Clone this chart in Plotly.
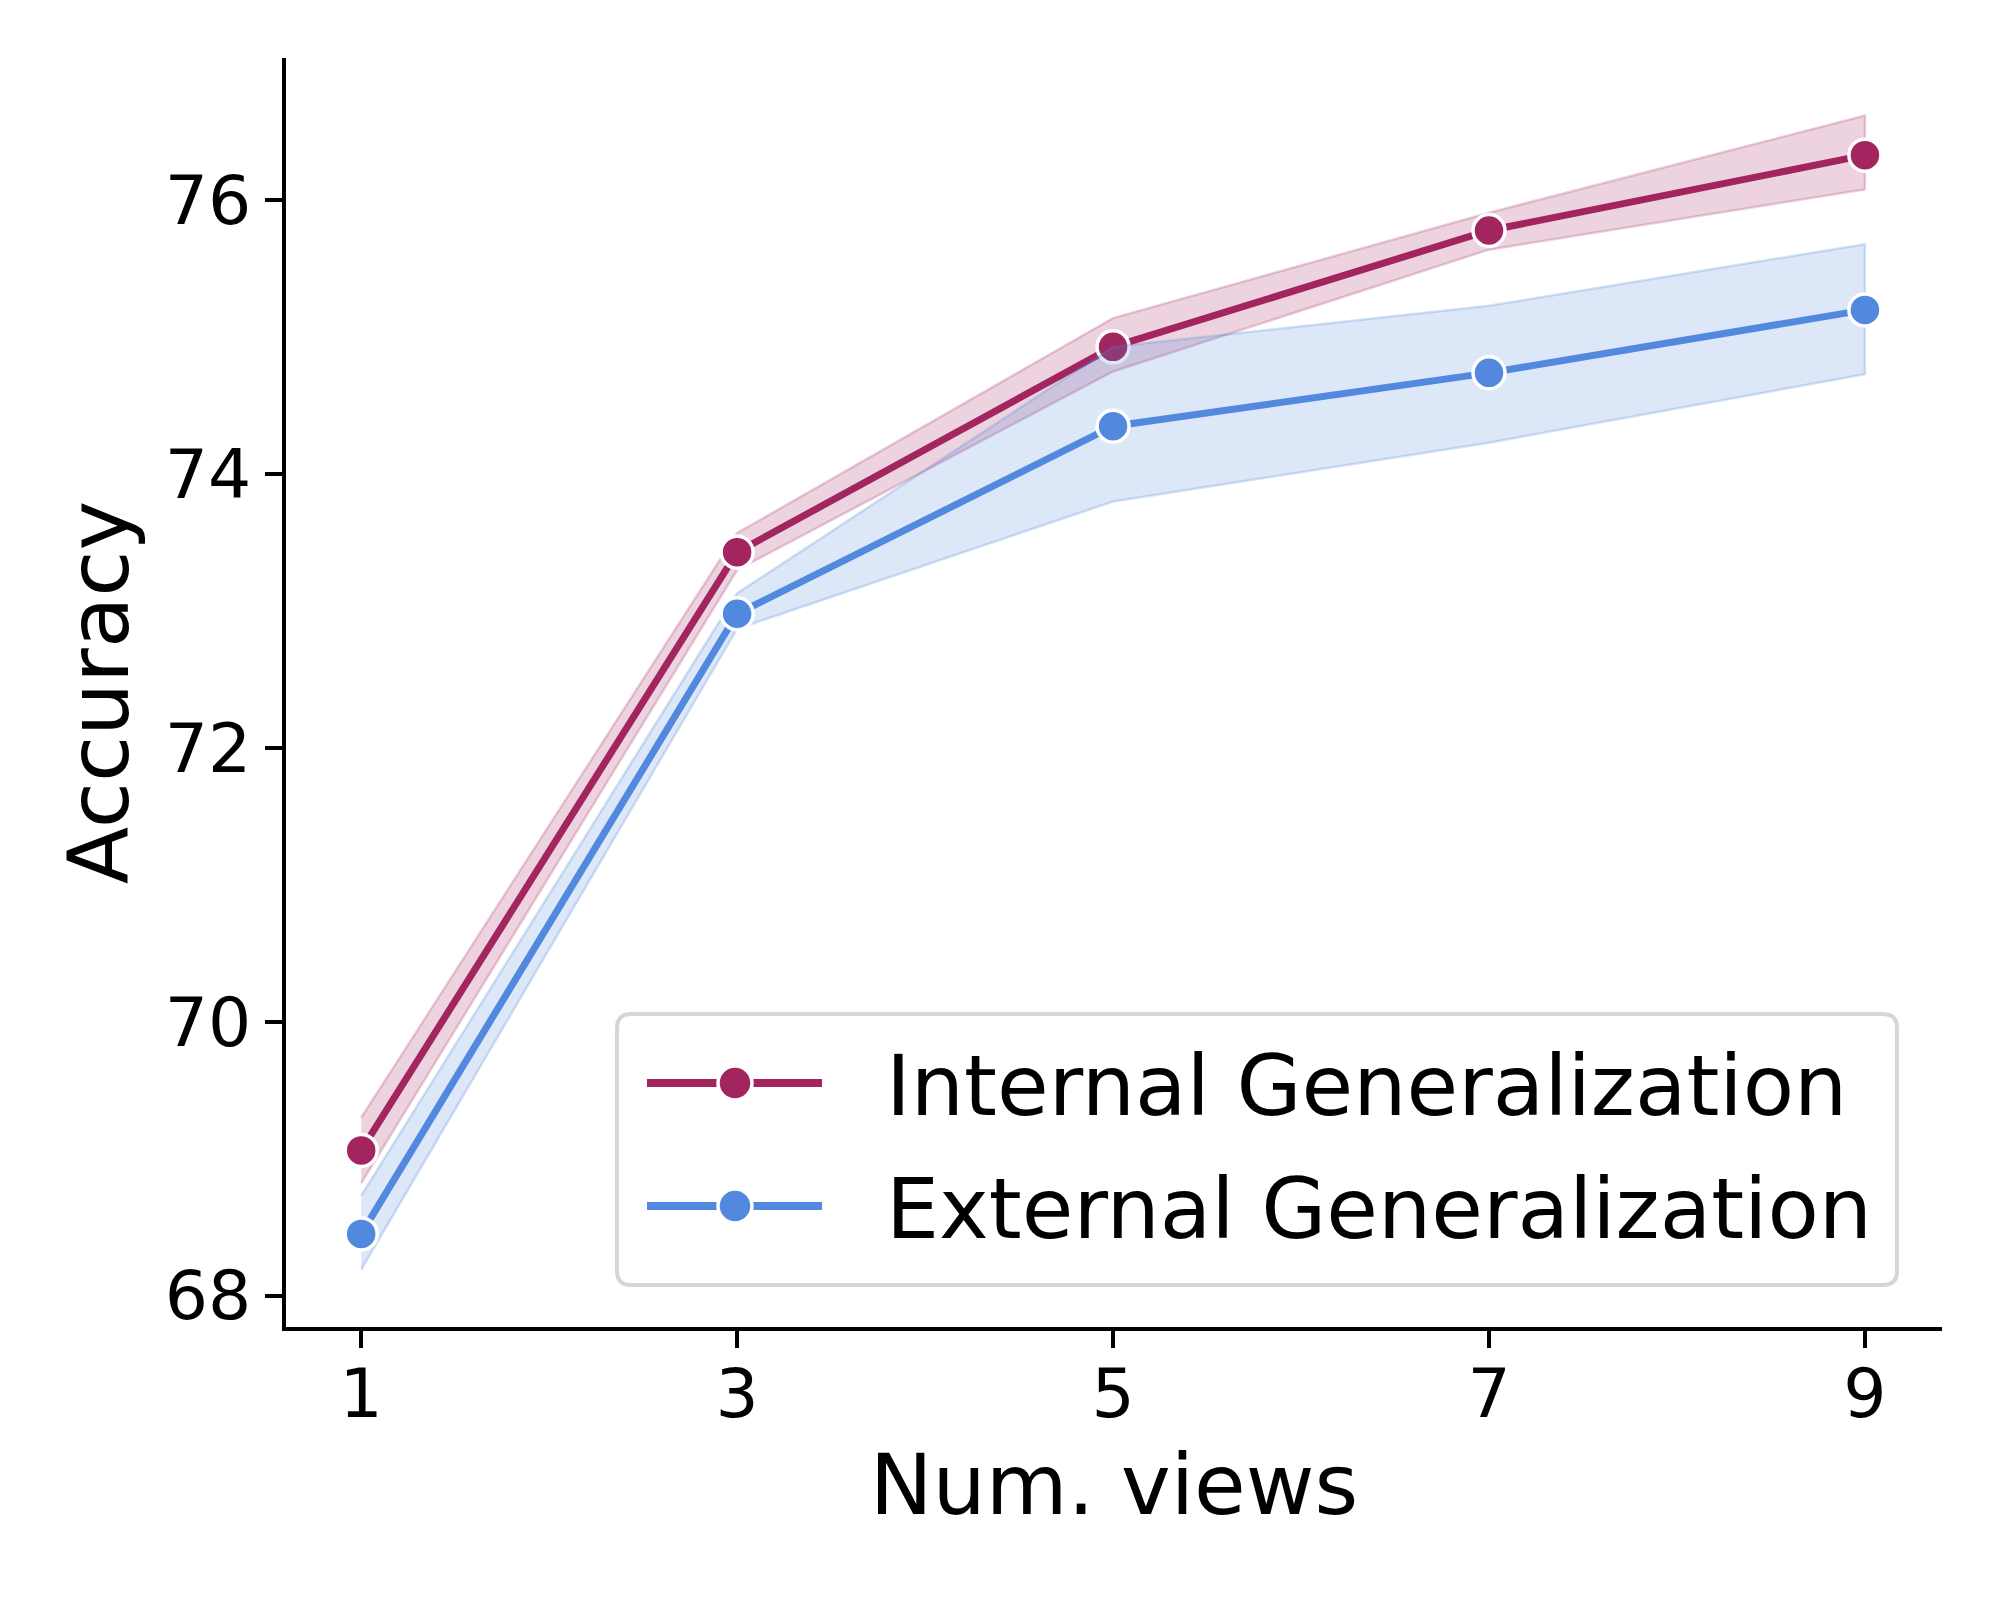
import plotly.graph_objects as go

# ---- data ----
views = [1, 3, 5, 7, 9]
internal_mean = [69.06, 73.43, 74.93, 75.78, 76.33]
internal_lo = [68.82, 73.30, 74.75, 75.64, 76.08]
internal_hi = [69.30, 73.57, 75.14, 75.91, 76.62]
external_mean = [68.45, 72.98, 74.35, 74.74, 75.20]
external_lo = [68.19, 72.87, 73.80, 74.23, 74.73]
external_hi = [68.73, 73.13, 74.93, 75.23, 75.68]
series_names = ["Internal Generalization", "External Generalization"]
x_ticks = [1, 3, 5, 7, 9]
y_ticks = [68, 70, 72, 74, 76]

RED = "#a2255f"
BLUE = "#5288dd"
RED_FILL = "rgba(162,37,95,0.2)"
BLUE_FILL = "rgba(82,136,221,0.2)"
RED_EDGE = "rgba(162,37,95,0.22)"
BLUE_EDGE = "rgba(82,136,221,0.25)"
FONT = "DejaVu Sans"

W, H = 2000, 1600
OFF = 8  # page body offset in the screenshot
# plot area wanted on screen: x 286..1942, y 58..1327
L = 286 - OFF
T = 58 - OFF
R = W - (1942 - OFF)
B = H - (1327 - OFF)
PW, PH = W - L - R, H - T - B


def px(sx):
    return (sx - OFF - L) / PW


def py(sy):
    return (H - B - (sy - OFF)) / PH


fig = go.Figure()

series = [
    (series_names[0], internal_mean, internal_lo, internal_hi, RED, RED_FILL, RED_EDGE),
    (series_names[1], external_mean, external_lo, external_hi, BLUE, BLUE_FILL, BLUE_EDGE),
]

for name, mean, lo, hi, col, fill, edge in series:
    fig.add_trace(go.Scatter(
        x=views + views[::-1], y=hi + lo[::-1],
        mode="lines", fill="toself", fillcolor=fill,
        line=dict(color=edge, width=2.5),
        hoverinfo="skip", showlegend=False,
    ))
    fig.add_trace(go.Scatter(
        x=views, y=mean, mode="lines+markers", name=name,
        line=dict(color=col, width=7),
        marker=dict(size=32, color=col, line=dict(color="white", width=3.5)),
        showlegend=False,
    ))

# ---- custom legend (matplotlib style) ----
lx0, ly0, lx1, ly1 = 617, 1014, 1897, 1285
r = 14
path = (f"M {px(lx0 + r)},{py(ly0)} L {px(lx1 - r)},{py(ly0)} "
        f"Q {px(lx1)},{py(ly0)} {px(lx1)},{py(ly0 + r)} "
        f"L {px(lx1)},{py(ly1 - r)} Q {px(lx1)},{py(ly1)} {px(lx1 - r)},{py(ly1)} "
        f"L {px(lx0 + r)},{py(ly1)} Q {px(lx0)},{py(ly1)} {px(lx0)},{py(ly1 - r)} "
        f"L {px(lx0)},{py(ly0 + r)} Q {px(lx0)},{py(ly0)} {px(lx0 + r)},{py(ly0)} Z")
shapes = [dict(type="path", xref="paper", yref="paper", path=path,
               line=dict(color="#d6d6d6", width=4), fillcolor="rgba(255,255,255,0.8)",
               layer="above")]
annotations = []
rows = [1083, 1206]
for (name, mean, lo, hi, col, fill, edge), ry in zip(series, rows):
    shapes.append(dict(type="line", xref="paper", yref="paper",
                       x0=px(647), x1=px(822), y0=py(ry), y1=py(ry),
                       line=dict(color=col, width=8), layer="above"))
    rad = 17
    shapes.append(dict(type="circle", xref="paper", yref="paper",
                       x0=px(735 - rad), x1=px(735 + rad), y0=py(ry + rad), y1=py(ry - rad),
                       fillcolor=col, line=dict(color="white", width=3.5), layer="above"))
    annotations.append(dict(xref="paper", yref="paper", x=px(884), y=py(ry + 3),
                            xanchor="left", yanchor="middle", showarrow=False,
                            text=name, font=dict(family=FONT, size=84, color="black")))

fig.update_layout(
    width=W, height=H,
    margin=dict(l=L, r=R, t=T, b=B, autoexpand=False),
    paper_bgcolor="white", plot_bgcolor="white",
    showlegend=False,
    shapes=shapes, annotations=annotations,
    font=dict(family=FONT, color="black"),
)
fig.update_xaxes(
    range=[0.6, 9.41], tickvals=x_ticks, ticktext=[str(v) for v in x_ticks],
    showgrid=False, zeroline=False, showline=True, linecolor="black", linewidth=4,
    ticks="outside", ticklen=17, tickwidth=4, tickcolor="black",
    tickfont=dict(family=FONT, size=68, color="black"),
    ticklabelstandoff=-13,
    title=dict(text="Num. views", font=dict(family=FONT, size=84, color="black"), standoff=25),
    automargin=False,
)
fig.update_yaxes(
    range=[67.77, 77.04], tickvals=y_ticks, ticktext=[str(v) for v in y_ticks],
    showgrid=False, zeroline=False, showline=True, linecolor="black", linewidth=4,
    ticks="outside", ticklen=17, tickwidth=4, tickcolor="black",
    tickfont=dict(family=FONT, size=68, color="black"),
    title=dict(text="Accuracy", font=dict(family=FONT, size=84, color="black"), standoff=9),
    automargin=False,
)

fig.write_html("out.html")
